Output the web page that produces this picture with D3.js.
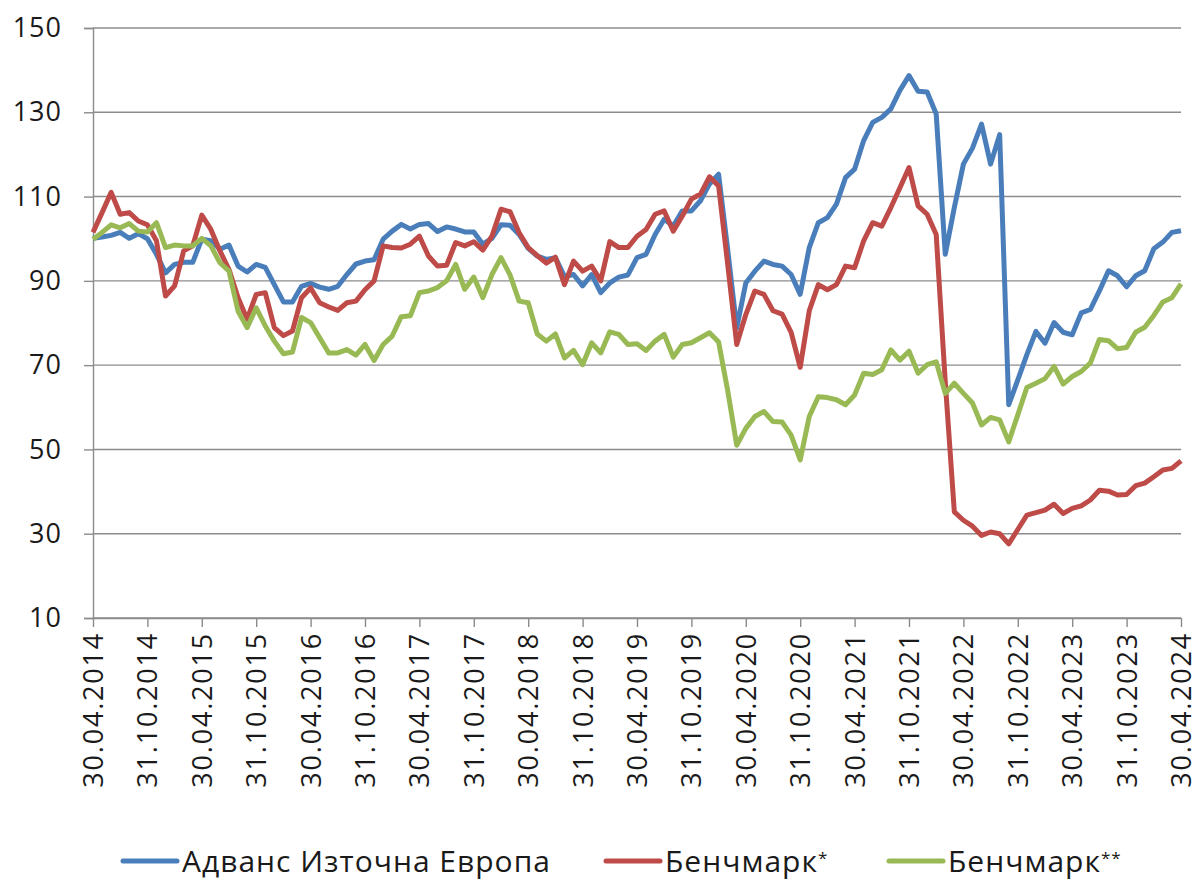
<!DOCTYPE html>
<html lang="bg">
<head>
<meta charset="UTF-8">
<title>Адванс Източна Европа</title>
<script src="https://cdn.jsdelivr.net/npm/d3@7"></script>
<style>
  body { margin: 0; background: #fff; }
  svg { display: block; font-family: "Open Sans", sans-serif; }
</style>
</head>
<body>
<script>
// monthly values, 30.04.2014 ... 30.04.2024
const advans = [
  100.1, 100.4, 100.8, 101.5, 100.1, 101.2, 100.0, 96.3, 91.9, 93.9, 94.4, 94.4,
  99.9, 99.5, 97.5, 98.5, 93.5, 92.1, 93.9, 93.2, 89.1, 85.0, 85.0, 88.7,
  89.4, 88.5, 88.0, 88.7, 91.5, 94.0, 94.7, 95.0, 99.9, 101.8, 103.4, 102.3,
  103.4, 103.6, 101.7, 102.8, 102.3, 101.6, 101.6, 98.7, 100.1, 103.3, 103.2, 101.0,
  97.7, 95.9, 95.1, 95.5, 91.0, 91.5, 88.8, 91.5, 87.2, 89.5, 90.9, 91.4,
  95.5, 96.3, 101.0, 104.6, 103.0, 106.6, 106.6, 109.0, 113.0, 115.3, 97.5, 78.8,
  89.5, 92.3, 94.7, 93.9, 93.5, 91.5, 86.8, 97.9, 103.8, 105.0, 108.2, 114.5,
  116.5, 123.3, 127.6, 128.8, 130.8, 135.2, 138.7, 135.0, 134.8, 129.6, 96.3, 107.4,
  117.7, 121.5, 127.2, 117.7, 124.7, 60.6, 66.5, 72.5, 78.0, 75.2, 80.1, 77.8,
  77.2, 82.4, 83.2, 87.6, 92.4, 91.2, 88.6, 91.2, 92.4, 97.6, 99.2, 101.5,
  101.9
];
const bench1 = [
  101.5, 106.2, 111.0, 105.8, 106.2, 104.2, 103.3, 99.5, 86.4, 88.8, 97.1, 98.3,
  105.6, 102.2, 97.1, 92.7, 86.0, 80.9, 86.8, 87.2, 78.9, 77.0, 78.1, 86.0,
  88.3, 84.8, 83.8, 83.0, 84.8, 85.2, 87.9, 90.0, 98.3, 97.9, 97.8, 98.7,
  100.6, 95.9, 93.5, 93.7, 99.1, 98.3, 99.3, 97.3, 100.6, 107.0, 106.4, 101.4,
  97.9, 96.0, 94.2, 95.6, 89.1, 94.7, 92.3, 93.5, 90.0, 99.3, 97.9, 97.9,
  100.6, 102.2, 105.8, 106.6, 101.8, 105.4, 109.4, 110.6, 114.7, 112.5, 94.0, 74.9,
  82.0, 87.6, 86.8, 82.9, 82.1, 77.8, 69.5, 82.9, 89.1, 87.9, 89.1, 93.5,
  93.1, 99.5, 103.8, 103.0, 107.4, 112.1, 116.9, 107.8, 105.8, 101.0, 66.0, 35.2,
  33.2, 31.8, 29.6, 30.4, 30.0, 27.6, 31.0, 34.4, 35.0, 35.6, 37.0, 34.8,
  36.0, 36.6, 38.0, 40.3, 40.1, 39.2, 39.3, 41.4, 42.0, 43.5, 45.1, 45.5,
  47.3
];
const bench2 = [
  99.9, 101.5, 103.3, 102.6, 103.6, 101.8, 101.6, 103.8, 97.9, 98.5, 98.3, 98.3,
  100.1, 98.3, 94.3, 92.3, 82.8, 78.9, 83.6, 79.3, 75.7, 72.7, 73.1, 81.3,
  80.1, 76.5, 72.9, 72.9, 73.7, 72.4, 74.9, 71.1, 74.9, 76.9, 81.5, 81.7,
  87.2, 87.6, 88.4, 90.0, 93.9, 88.0, 90.9, 86.0, 91.5, 95.5, 91.4, 85.2,
  84.8, 77.4, 75.7, 77.4, 71.7, 73.5, 70.1, 75.3, 72.9, 77.9, 77.3, 74.9,
  75.1, 73.5, 75.7, 77.3, 71.9, 74.9, 75.3, 76.5, 77.7, 75.5, 64.0, 51.0,
  55.0, 57.8, 59.0, 56.6, 56.5, 53.4, 47.5, 57.8, 62.5, 62.3, 61.8, 60.6,
  62.9, 68.1, 67.8, 68.9, 73.6, 71.2, 73.3, 68.1, 70.1, 70.8, 63.3, 65.7,
  63.3, 61.0, 55.8, 57.6, 57.0, 51.8, 58.2, 64.7, 65.7, 66.8, 69.7, 65.5,
  67.3, 68.5, 70.5, 76.1, 75.8, 73.9, 74.2, 77.8, 79.0, 81.8, 85.0, 86.0,
  89.3
];
const tickLabels = [
  "30.04.2014", "31.10.2014", "30.04.2015", "31.10.2015", "30.04.2016", "31.10.2016",
  "30.04.2017", "31.10.2017", "30.04.2018", "31.10.2018", "30.04.2019", "31.10.2019",
  "30.04.2020", "31.10.2020", "30.04.2021", "31.10.2021", "30.04.2022", "31.10.2022",
  "30.04.2023", "31.10.2023", "30.04.2024"
];
const yTicks = [10, 30, 50, 70, 90, 110, 130, 150];

// month-end dates for every point
const fmt = d3.timeFormat("%d.%m.%Y");
const dates = d3.range(advans.length).map(i => fmt(new Date(2014, 4 + i, 0)));

const series = [
  {name: "Адванс Източна Европа", sup: "", color: "#4a7ebb", values: advans},
  {name: "Бенчмарк", sup: "*", color: "#be4b48", values: bench1},
  {name: "Бенчмарк", sup: "**", color: "#98b954", values: bench2}
];

const width = 1198, height = 880;
const margin = {top: 28, right: 17, bottom: 262, left: 93};

const svg = d3.select("body").append("svg")
    .attr("width", width)
    .attr("height", height);

const x = d3.scalePoint()
    .domain(dates)
    .range([margin.left, width - margin.right]);
const y = d3.scaleLinear()
    .domain([10, 150])
    .range([height - margin.bottom, margin.top]);

// gridlines
svg.append("g")
    .selectAll("line")
    .data(yTicks)
    .enter().append("line")
    .attr("x1", margin.left)
    .attr("x2", width - margin.right)
    .attr("y1", d => y(d))
    .attr("y2", d => y(d))
    .attr("stroke", "#8c8c8c")
    .attr("stroke-width", 1.4);

// y axis
const yAxis = svg.append("g")
    .attr("transform", `translate(${margin.left},0)`)
    .call(d3.axisLeft(y).tickValues(yTicks).tickSize(9).tickPadding(22));
yAxis.select(".domain").attr("stroke", "#8c8c8c").attr("stroke-width", 1.4);
yAxis.selectAll(".tick line").attr("stroke", "#8c8c8c").attr("stroke-width", 1.4);
yAxis.selectAll("text")
    .attr("font-family", "Open Sans, sans-serif")
    .attr("font-size", 27)
    .attr("letter-spacing", 1)
    .attr("fill", "#1a1a1a");

// x axis
const xAxis = svg.append("g")
    .attr("transform", `translate(0,${y(10)})`)
    .call(d3.axisBottom(x).tickValues(tickLabels).tickSize(9).tickSizeOuter(0));
xAxis.select(".domain").attr("stroke", "#8c8c8c").attr("stroke-width", 1.4);
xAxis.selectAll(".tick line").attr("stroke", "#8c8c8c").attr("stroke-width", 1.4);
xAxis.selectAll("text")
    .attr("font-family", "Open Sans, sans-serif")
    .attr("font-size", 27)
    .attr("letter-spacing", 1.8)
    .attr("fill", "#1a1a1a")
    .attr("text-anchor", "end")
    .attr("transform", "rotate(-90)")
    .attr("x", -14)
    .attr("y", 0)
    .attr("dy", "0.35em");

// lines
const line = d3.line()
    .x((d, i) => x(dates[i]))
    .y(d => y(d));

svg.append("g")
    .attr("fill", "none")
    .attr("stroke-width", 5)
    .attr("stroke-linejoin", "round")
    .selectAll("path")
    .data(series)
    .enter().append("path")
    .attr("stroke", d => d.color)
    .attr("d", d => line(d.values));

// legend
const legendX = [123, 606, 889];
const leg = svg.append("g")
    .selectAll("g")
    .data(series)
    .enter().append("g")
    .attr("transform", (d, i) => `translate(${legendX[i]},861)`);

leg.append("line")
    .attr("x1", 0)
    .attr("x2", 54)
    .attr("stroke", d => d.color)
    .attr("stroke-width", 5)
    .attr("stroke-linecap", "round");

const lt = leg.append("text")
    .attr("x", 59)
    .attr("dy", "0.35em")
    .attr("font-family", "Open Sans, sans-serif")
    .attr("font-size", 30)
    .attr("letter-spacing", 1)
    .attr("fill", "#1a1a1a")
    .text(d => d.name);
lt.append("tspan")
    .attr("dy", "-0.45em")
    .attr("font-size", 17)
    .text(d => d.sup);
</script>
</body>
</html>
